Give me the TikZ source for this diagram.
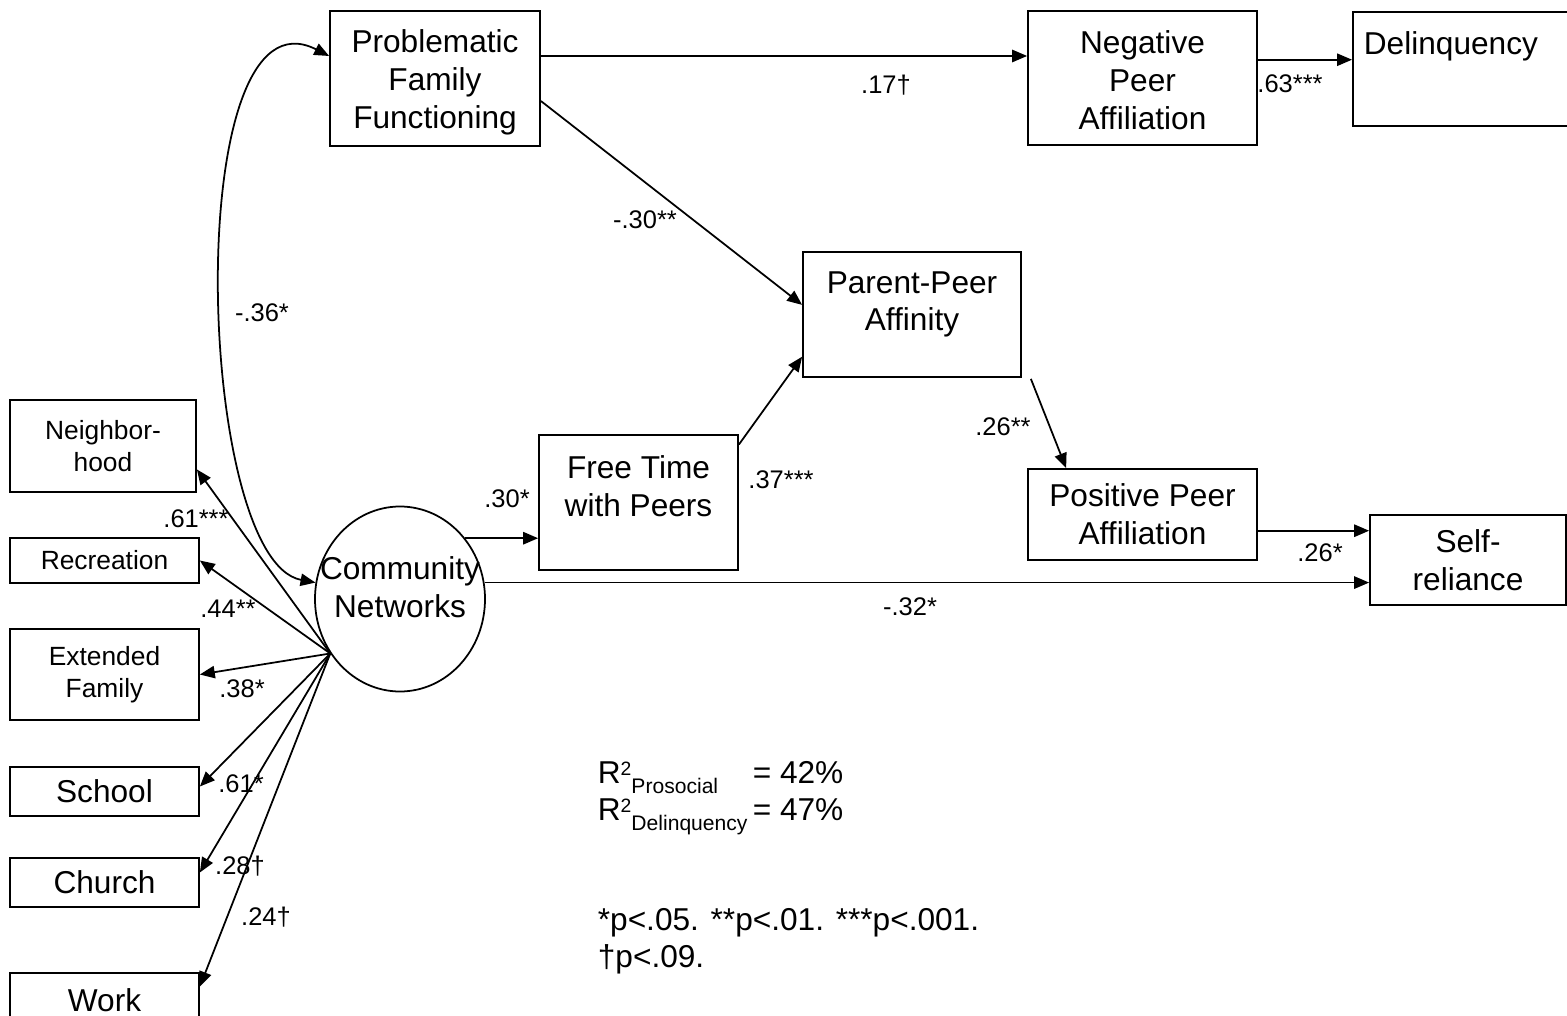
\documentclass[tikz,border=0pt]{standalone}
\usepackage{fontspec}
\setmainfont{Liberation Sans}
\usetikzlibrary{arrows.meta,shapes.geometric,calc}
\newdimen\pxu \pxu=0.02cm
\newcommand\boxfont{\fontsize{18}{21.5}\selectfont}
\newcommand\minorfont{\fontsize{15}{18.3}\selectfont}
\newcommand\coeffont{\fontsize{14.5}{17}\selectfont}
\newcommand\sups[1]{\raisebox{4.5pt}{\fontsize{11}{12}\selectfont #1}}
\newcommand\subs[1]{\raisebox{-5.7pt}{\fontsize{12}{13}\selectfont #1}}
\begin{document}
\begin{tikzpicture}[x=0.02cm, y=-0.02cm, line width=1pt,
	>={Triangle[length=8.5pt,width=7pt]},
	box/.style={draw, rectangle, inner sep=0pt, align=center, font=\boxfont},
	sbox/.style={box, font=\minorfont},
	coef/.style={font=\coeffont, inner sep=0pt}]
\useasboundingbox (0,0) rectangle (1567,1016);
\clip (0,0) rectangle (1567,1016);

% constructs
\node[box, minimum width=210*\pxu, minimum height=135*\pxu,
	label={[font=\boxfont, align=center, yshift=-4*\pxu]center:Problematic\\Family\\Functioning}] (pff) at (435,78.5) {};
\node[box, minimum width=229*\pxu, minimum height=134*\pxu,
	label={[font=\boxfont, align=center, yshift=-2*\pxu]center:Negative\\Peer\\Affiliation}] (npa) at (1142.5,78) {};
\node[box, minimum width=260*\pxu, minimum height=114*\pxu, anchor=north west,
	label={[font=\boxfont, xshift=-32*\pxu, yshift=23*\pxu]center:Delinquency}] (del) at (1352,11) {};
\node[box, minimum width=218*\pxu, minimum height=125*\pxu,
	label={[font=\boxfont, align=center, yshift=10*\pxu]center:Parent-Peer\\Affinity}] (ppa) at (912,314.5) {};
\node[box, minimum width=199*\pxu, minimum height=135*\pxu,
	label={[font=\boxfont, align=center, yshift=16*\pxu]center:Free Time\\with Peers}] (ftp) at (638.5,502.5) {};
\node[box, minimum width=229*\pxu, minimum height=91*\pxu] (pos) at (1142.5,514.5) {Positive Peer\\Affiliation};
\node[box, minimum width=196*\pxu, minimum height=90*\pxu] (sr) at (1468,560) {Self-\\reliance};
\node[draw, ellipse, inner sep=0pt, minimum width=170*\pxu, minimum height=185*\pxu,
	label={[font=\boxfont, align=center, yshift=12*\pxu]center:Community\\Networks}] (cn) at (400,599) {};

% indicators
\node[sbox, minimum width=186*\pxu, minimum height=92*\pxu] (nbh) at (103,446) {Neighbor-\\hood};
\node[sbox, minimum width=189*\pxu, minimum height=45*\pxu] (rec) at (104.5,560.5) {Recreation};
\node[sbox, minimum width=189*\pxu, minimum height=91*\pxu] (ext) at (104.5,674.5) {Extended\\Family};
\node[box, minimum width=189*\pxu, minimum height=49*\pxu] (sch) at (104.5,791.5) {School};
\node[box, minimum width=189*\pxu, minimum height=49*\pxu] (chu) at (104.5,882.5) {Church};
\node[box, minimum width=189*\pxu, minimum height=54*\pxu] (wrk) at (104.5,1000) {Work};

% paths
\draw[->] (pff.12) -- (pff.12 -| npa.west);
\draw[->] (npa.9) -- (npa.9 -| del.west);
\draw[->] (pff.-12) -- (ppa.175);
\draw[->] (ftp.30) -- (ppa.201);
\draw[->] ($(ppa.south east)+(9,1)$) -- ($(pos.north west)+(39,0)$);
\draw[->] (pos.-8) -- (pos.-8 -| sr.west);
\draw[->] (cn.43) -- (cn.43 -| ftp.west);
\draw[->] (cn.11) -- (cn.11 -| sr.west);
\draw[<->] (pff.168) .. controls (180,-20) and (195,560) .. (cn.169);

\coordinate (fan) at (cn.218);
\draw[->] (fan) -- (nbh.-14);
\draw[->] (fan) -- (rec.east);
\draw[->] (fan) -- (ext.east);
\draw[->] (fan) -- (sch.3);
\draw[->] (fan) -- (chu.6);
\draw[->] (fan) -- (wrk.8);

% coefficients
\node[coef] (c1) at (886,85) {.17†};
\node[coef] (c2) at (1290,84) {.63***};
\node[coef] (c3) at (645,220) {-.30**};
\node[coef] (c4) at (781,480) {.37***};
\node[coef] (c5) at (1003,427) {.26**};
\node[coef] (c6) at (1320,553) {.26*};
\node[coef] (c7) at (910,607) {-.32*};
\node[coef] (c8) at (507,499) {.30*};
\node[coef] (c9) at (262,313) {-.36*};
\node[coef] (l1) at (196,519) {.61***};
\node[coef] (l2) at (228,609) {.44**};
\node[coef] (l3) at (242,689) {.38*};
\node[coef] (l4) at (241,784) {.61*};
\node[coef] (l5) at (240,866) {.28†};
\node[coef] (l6) at (266,917) {.24†};

% notes
\node[font=\boxfont, inner sep=0pt, anchor=base west] (rsq) at (597,783)
	{\begin{tabular}[t]{@{}l@{}l@{}}R\sups{2}\subs{Prosocial} & \,= 42\% \\ R\sups{2}\subs{Delinquency} & \,= 47\%\end{tabular}};
\node[font=\boxfont, inner sep=0pt, anchor=base west] (sig) at (597,930)
	{\begin{tabular}[t]{@{}l@{}}*p<.05. **p<.01. ***p<.001.\\ †p<.09.\end{tabular}};
\end{tikzpicture}
\end{document}
